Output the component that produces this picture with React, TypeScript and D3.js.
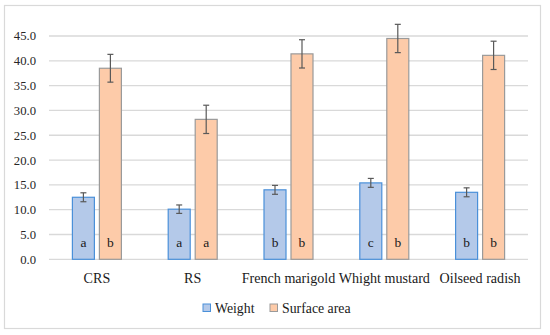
import * as d3 from "d3";

const categories = ["CRS", "RS", "French marigold", "Whight mustard", "Oilseed radish"];
const seriesNames = ["Weight", "Surface area"];
const weight = [12.5, 10.1, 14.0, 15.4, 13.5];
const weightErr = [0.9, 0.85, 0.9, 0.9, 0.9];
const surface = [38.5, 28.2, 41.4, 44.5, 41.1];
const surfaceErr = [2.8, 2.85, 2.85, 2.85, 2.85];
const weightLetters = ["a", "a", "b", "c", "b"];
const surfaceLetters = ["b", "a", "b", "b", "b"];
const yTicks = [0, 5, 10, 15, 20, 25, 30, 35, 40, 45];

const fills = ["#b4c9e9", "#fdcba9"];
const strokes = ["#4a90d9", "#9a9a9a"];
const font = "'Liberation Serif', 'Times New Roman', serif";

export default function App() {
  const width = 550;
  const height = 335;
  const left = 49;
  const right = 528;

  const x = d3.scaleBand().domain(categories).range([left, right]).padding(0);
  const y = d3.scaleLinear().domain([0, 45]).range([259.3, 36]);
  const step = x.step();
  const sub = d3.scaleBand().domain(seriesNames).paddingInner(0.185).paddingOuter(0);

  const series = [
    { name: "Weight", values: weight, err: weightErr, letters: weightLetters },
    { name: "Surface area", values: surface, err: surfaceErr, letters: surfaceLetters },
  ];

  return (
    <svg
      width={width}
      height={height}
      style={{ position: "absolute", top: 0, left: 0, display: "block", fontFamily: font }}
    >
      <rect x={0} y={0} width={width} height={height} fill="#fff" />
      <rect x={4.5} y={5.5} width={536} height={323} fill="none" stroke="#d9d9d9" strokeWidth={1.2} />

      {yTicks.map((t) => (
        <g key={t}>
          <line x1={left} x2={right} y1={y(t)} y2={y(t)} stroke="#d9d9d9" strokeWidth={1.3} />
          <text x={36} y={y(t)} dy="0.35em" textAnchor="end" fontSize={12.7} fill="#262626">
            {t.toFixed(1)}
          </text>
        </g>
      ))}

      {categories.map((c, i) => {
        const cx = (x(c) as number) + step / 2;
        sub.range([cx - 24.5, cx + 24.5]);
        return (
          <g key={c}>
            {series.map((s, k) => {
              const bx = sub(s.name) as number;
              const bw = sub.bandwidth();
              const v = s.values[i];
              const e = s.err[i];
              const mx = bx + bw / 2;
              return (
                <g key={s.name}>
                  <rect
                    x={bx}
                    y={y(v)}
                    width={bw}
                    height={y(0) - y(v)}
                    fill={fills[k]}
                    stroke={strokes[k]}
                    strokeWidth={1.2}
                  />
                  <g stroke="#595959" strokeWidth={1.2}>
                    <line x1={mx} x2={mx} y1={y(v + e)} y2={y(v - e)} />
                    <line x1={mx - 3} x2={mx + 3} y1={y(v + e)} y2={y(v + e)} />
                    <line x1={mx - 3} x2={mx + 3} y1={y(v - e)} y2={y(v - e)} />
                  </g>
                  <text x={mx} y={242} dy="0.35em" textAnchor="middle" fontSize={13.5} fill="#1a1a1a">
                    {s.letters[i]}
                  </text>
                </g>
              );
            })}
            <text x={cx} y={278.5} dy="0.35em" textAnchor="middle" fontSize={14.1} fill="#1a1a1a">
              {c}
            </text>
          </g>
        );
      })}

      {series.map((s, k) => {
        const lx = k === 0 ? 203 : 270;
        return (
          <g key={s.name}>
            <rect x={lx} y={304} width={7.5} height={7.5} fill={fills[k]} stroke={strokes[k]} strokeWidth={1} />
            <text x={lx + 12} y={308} dy="0.35em" fontSize={13.8} fill="#1a1a1a">
              {s.name}
            </text>
          </g>
        );
      })}
    </svg>
  );
}
